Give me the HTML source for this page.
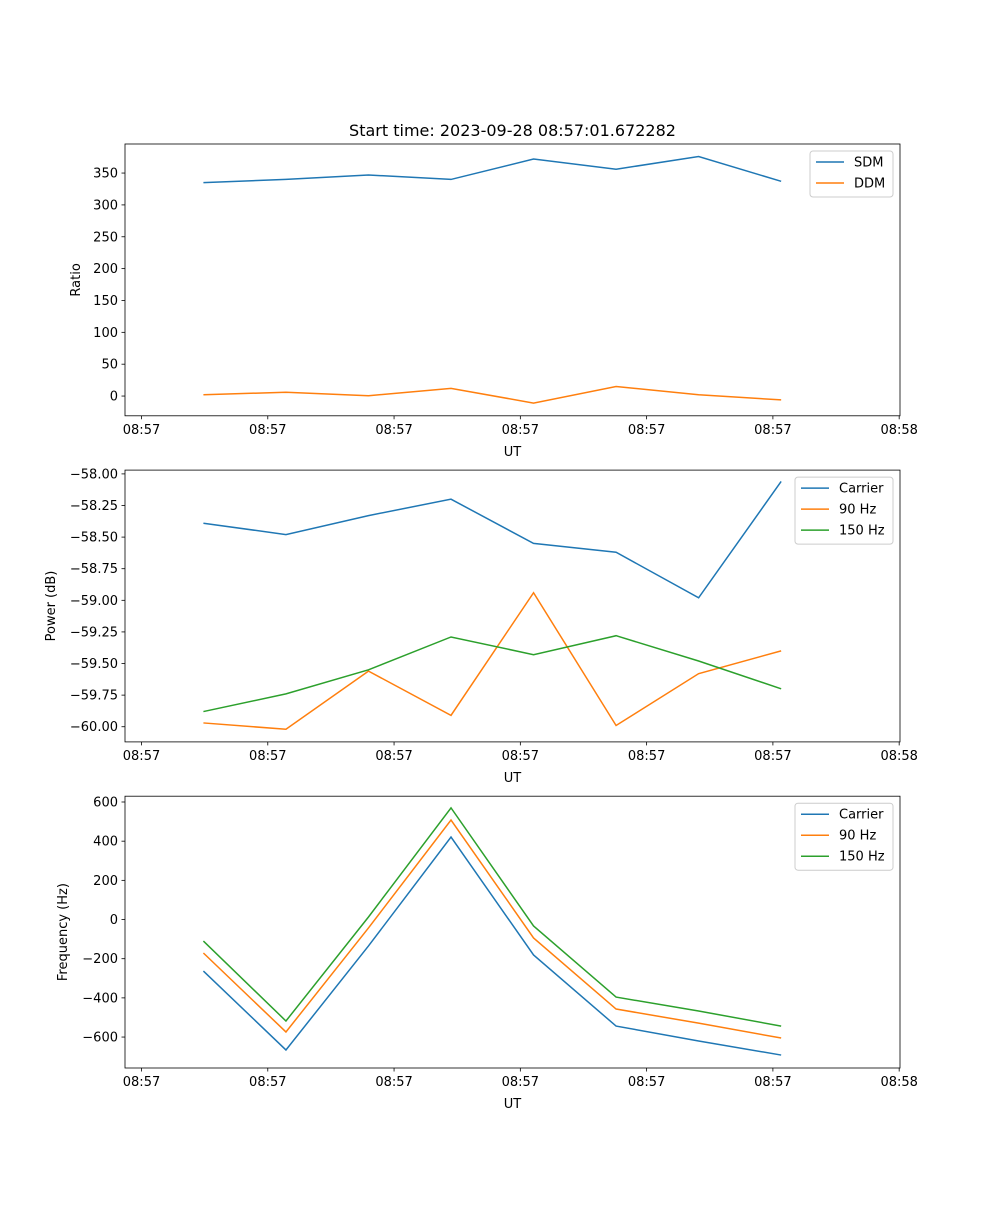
<!DOCTYPE html>
<html><head><meta charset="utf-8"><style>
body{margin:0;background:#fff;}
svg text{font-family:"DejaVu Sans","Liberation Sans",sans-serif;fill:#000;}
</style></head><body>
<svg id="fig" width="1000" height="1200" xmlns="http://www.w3.org/2000/svg">
<rect width="1000" height="1200" fill="#fff"/>
<text x="512.5" y="136" font-size="16" text-anchor="middle">Start time: 2023-09-28 08:57:01.672282</text>
</svg>
<script>
const tickLabels = ["08:57","08:57","08:57","08:57","08:57","08:57","08:58"];
const sdm = [335,340,347,340,372,356,376,337];
const ddm = [2,6,0.5,12,-11,15,2,-6];
const powCarrier = [-58.39,-58.48,-58.33,-58.20,-58.55,-58.62,-58.98,-58.06];
const pow90 = [-59.97,-60.02,-59.56,-59.91,-58.94,-59.99,-59.58,-59.40];
const pow150 = [-59.88,-59.74,-59.55,-59.29,-59.43,-59.28,-59.48,-59.70];
const freqCarrier = [-263,-666,-135,421,-181,-544,-620,-692];
const freq90 = [-171,-574,-43,508,-94,-457,-529,-605];
const freq150 = [-110,-518,13,570,-33,-396,-467,-544];
const ratioTicks = [0,50,100,150,200,250,300,350];
const powTicks = [-60,-59.75,-59.5,-59.25,-59,-58.75,-58.5,-58.25,-58];
const freqTicks = [-600,-400,-200,0,200,400,600];

const NS="http://www.w3.org/2000/svg";
const svg=document.getElementById('fig');
const L=125,R=900, XMIN=-0.95, XMAX=8.44;
const xs=i=>L+(i-XMIN)/(XMAX-XMIN)*(R-L);
function el(t,a,p){const e=document.createElementNS(NS,t);for(const k in a)e.setAttribute(k,a[k]);(p||svg).appendChild(e);return e;}
function panel(name,top,bot,ymin,ymax,yticks,fmt,ylabel,series,legend){
  const g=el('g',{});
  
  
  const ys=v=>bot-(v-ymin)/(ymax-ymin)*(bot-top);
  series.forEach(s=>{
    const p=el('polyline',{points:s.d.map((v,i)=>xs(i)+','+ys(v)).join(' '),fill:'none',stroke:s.c,'stroke-width':1.5},g);
    
    
  });
  el('rect',{x:L,y:top,width:R-L,height:bot-top,fill:'none',stroke:'#000','stroke-width':0.8},g);
  tickLabels.forEach((lab,k)=>{
    const x=xs(-0.75+k*1.53);
    el('line',{x1:x,x2:x,y1:bot,y2:bot+3.5,stroke:'#000','stroke-width':0.8},g);
    const t=el('text',{x:x,y:bot+18,'font-size':13,'text-anchor':'middle'},g);t.textContent=lab;
    
    
  });
  const xl=el('text',{x:512.5,y:bot+40,'font-size':13,'text-anchor':'middle'},g);xl.textContent='UT';
  
  
  yticks.forEach(v=>{
    const y=ys(v);
    el('line',{x1:L-3.5,x2:L,y1:y,y2:y,stroke:'#000','stroke-width':0.8},g);
    const t=el('text',{x:L-7,y:y+4.5,'font-size':13,'text-anchor':'end'},g);t.textContent=fmt(v);
    
    
  });
  const yl=el('text',{x:0,y:0,'font-size':13,'text-anchor':'middle',transform:`translate(${legend.yx},${(top+bot)/2}) rotate(-90)`},g);yl.textContent=ylabel;
  
  
  const lg=el('g',{},g);
  
  
  el('rect',{x:legend.x,y:top+7,width:893-legend.x,height:series.length*21+4,rx:3,fill:'#fff',stroke:'#ccc','stroke-width':1},lg);
  series.forEach((s,k)=>{
    const y=top+18+k*21;
    el('line',{x1:legend.x+6,x2:legend.x+34,y1:y,y2:y,stroke:s.c,'stroke-width':1.5},lg);
    const t=el('text',{x:legend.x+44,y:y+4.5,'font-size':13},lg);t.textContent=s.lab;
    
    
  });
}
const B='#1f77b4',O='#ff7f0e',G='#2ca02c';
panel('ratio',144,415.8,-31,395.6,ratioTicks,v=>String(v),'Ratio',
 [{id:'sdm',d:sdm,c:B,lab:'SDM'},{id:'ddm',d:ddm,c:O,lab:'DDM'}],{x:810,yx:80});
panel('power',470.1,741.9,-60.12,-57.97,powTicks,v=>'\u2212'+Math.abs(v).toFixed(2),'Power (dB)',
 [{id:'carrier',d:powCarrier,c:B,lab:'Carrier'},{id:'90hz',d:pow90,c:O,lab:'90 Hz'},{id:'150hz',d:pow150,c:G,lab:'150 Hz'}],{x:795,yx:55});
panel('frequency',796.2,1068,-758,629.6,freqTicks,v=>v<0?'\u2212'+Math.abs(v):String(v),'Frequency (Hz)',
 [{id:'carrier',d:freqCarrier,c:B,lab:'Carrier'},{id:'90hz',d:freq90,c:O,lab:'90 Hz'},{id:'150hz',d:freq150,c:G,lab:'150 Hz'}],{x:795,yx:67});
</script>
</body></html>
